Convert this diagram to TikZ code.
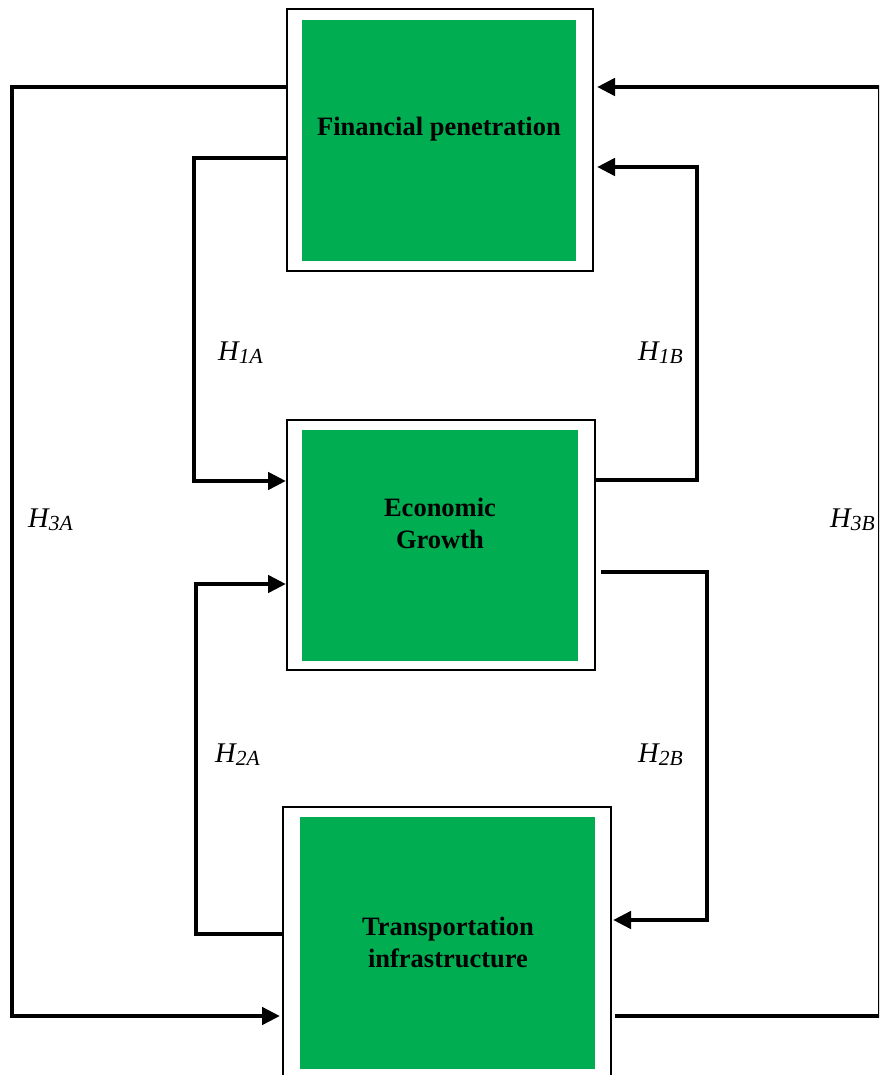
\documentclass[tikz,border=0pt]{standalone}
\usepackage{fontspec}
\setmainfont{Liberation Serif}
\usetikzlibrary{arrows.meta}
\definecolor{boxgreen}{RGB}{0,173,80}
\newcommand{\hyp}[2]{\fontsize{28.5}{30}\selectfont\itshape #1\raisebox{-3pt}{\fontsize{21.5}{22}\selectfont #2}}
\tikzset{
  outerbox/.style={draw=black, line width=2pt, fill=white, inner sep=0pt},
  innerbox/.style={fill=boxgreen, inner sep=0pt},
  boxtext/.style={font=\fontsize{26.5}{32}\selectfont\bfseries, align=center, inner sep=0pt},
  hlabel/.style={inner sep=0pt, anchor=base west},
  conn/.style={line width=4.6pt, line join=miter},
  arr/.style={conn, -{Triangle[length=18pt,width=17pt]}}
}
\begin{document}
\begin{tikzpicture}[x=1pt,y=-1pt]
\path[use as bounding box, clip] (0,0) rectangle (879,1075);
% boxes
\node[outerbox, minimum width=306pt, minimum height=262pt] (fin) at (440,140) {};
\node[innerbox, minimum width=274pt, minimum height=241pt] (finG) at (439,140.5) {};
\node[boxtext] (finT) at (439,129) {Financial penetration};
\node[outerbox, minimum width=308pt, minimum height=250pt] (eco) at (441,545) {};
\node[innerbox, minimum width=276pt, minimum height=231pt] (ecoG) at (440,545.5) {};
\node[boxtext] (ecoT) at (440,523) {Economic\\Growth};
\node[outerbox, minimum width=328pt, minimum height=278pt] (tra) at (447,946) {};
\node[innerbox, minimum width=295pt, minimum height=252pt] (traG) at (447.5,943) {};
\node[boxtext] (traT) at (448,942) {Transportation\\infrastructure};
% connectors
\coordinate (a1) at (194,158);
\coordinate (a2) at (194,481);
\draw[arr] (fin.west |- a1) -- (a1) -- (a2) -- (eco.west |- a2);
\coordinate (b1) at (697,480);
\coordinate (b2) at (697,167);
\draw[arr] (eco.east |- b1) -- (b1) -- (b2) -- ([xshift=3pt]fin.east |- b2);
\coordinate (c1) at (196,934);
\coordinate (c2) at (196,584);
\draw[arr] (tra.west |- c1) -- (c1) -- (c2) -- (eco.west |- c2);
\coordinate (d0) at (601,572);
\coordinate (d1) at (707,572);
\coordinate (d2) at (707,920);
\draw[arr] (d0) -- (d1) -- (d2) -- ([xshift=1pt]tra.east |- d2);
\coordinate (e1) at (12,87);
\coordinate (e2) at (12,1016);
\draw[arr] (fin.west |- e1) -- (e1) -- (e2) -- ([xshift=-2pt]tra.west |- e2);
\coordinate (f0) at (615,1016);
\coordinate (f1) at (880.5,1016);
\coordinate (f2) at (880.5,87);
\draw[arr] (f0) -- (f1) -- (f2) -- ([xshift=3pt]fin.east |- f2);
% labels
\node[hlabel] (h1a) at (218,360) {\hyp{H}{1A}};
\node[hlabel] (h1b) at (638,360) {\hyp{H}{1B}};
\node[hlabel] (h3a) at (28,527) {\hyp{H}{3A}};
\node[hlabel] (h3b) at (830,527) {\hyp{H}{3B}};
\node[hlabel] (h2a) at (215,762) {\hyp{H}{2A}};
\node[hlabel] (h2b) at (638,762) {\hyp{H}{2B}};
\end{tikzpicture}
\end{document}
